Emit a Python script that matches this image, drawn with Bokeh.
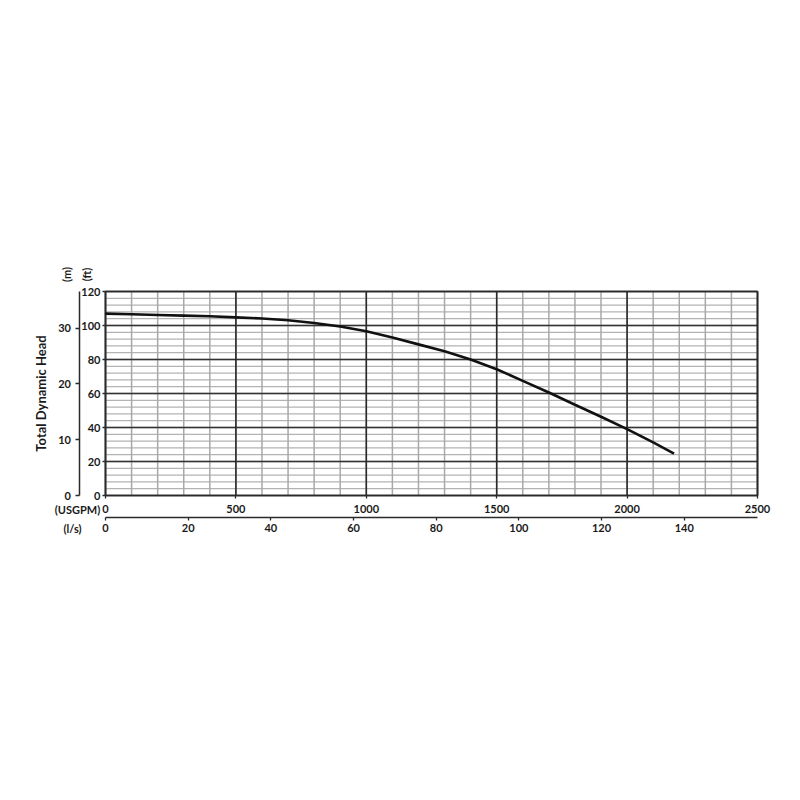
import math
from bokeh.plotting import figure
from bokeh.models import LinearAxis, Range1d, FixedTicker, Label
from bokeh.embed import file_html
from bokeh.resources import INLINE

# ---- data ----
flow_usgpm = [0, 100, 200, 300, 400, 500, 600, 700, 800, 900, 1000, 1100, 1200,
              1300, 1400, 1500, 1600, 1700, 1800, 1900, 2000, 2100, 2180]
head_ft = [107.0, 106.6, 106.2, 105.8, 105.4, 104.8, 104.1, 103.1, 101.5, 99.4,
           96.6, 93.0, 88.9, 84.8, 80.0, 74.3, 67.4, 60.6, 53.4, 46.3, 39.0,
           31.2, 24.6]

ft_ticks = [0, 20, 40, 60, 80, 100, 120]
ft_minor = list(range(0, 121, 4))
m_ticks = [0, 10, 20, 30]
usgpm_ticks = [0, 500, 1000, 1500, 2000, 2500]
usgpm_minor = list(range(0, 2501, 100))
ls_ticks = [0, 20, 40, 60, 80, 100, 120, 140]

FT_PER_M = 3.28084
USGPM_PER_LS = 15.850323

FONT = "Lato"
TXT = "#1a1a1a"
DARK = "#2a2a2a"

# ---- layout (page pixels) ----
W = H = 784
CH_L, CH_R, CH_T, CH_B = 105, 757, 291, 495   # chart box
X_MAX = usgpm_ticks[-1]
Y_MAX = ft_ticks[-1]
px_x = (CH_R - CH_L) / X_MAX
px_y = (CH_B - CH_T) / Y_MAX
x_start, x_end = -CH_L / px_x, X_MAX + (W - CH_R) / px_x
y_start, y_end = -(H - CH_B) / px_y, Y_MAX + CH_T / px_y

def dx(px):   # page x pixel -> USGPM data
    return (px - CH_L) / px_x

def dy(py):   # page y pixel -> ft data
    return (CH_B - py) / px_y

p = figure(width=W, height=H, output_backend="svg", toolbar_location=None,
           x_range=Range1d(x_start, x_end), y_range=Range1d(y_start, y_end),
           x_axis_type=None, y_axis_type=None,
           min_border_left=0, min_border_right=0,
           min_border_top=0, min_border_bottom=0)
p.outline_line_color = None
p.background_fill_color = "white"
p.border_fill_color = "white"

p.extra_y_ranges = {"m": Range1d(y_start / FT_PER_M, y_end / FT_PER_M)}
p.extra_x_ranges = {"ls": Range1d(x_start / USGPM_PER_LS, x_end / USGPM_PER_LS)}

# ---- grid ----
def hlines(vals, color, width):
    n = len(vals)
    p.segment(x0=[0] * n, x1=[X_MAX] * n, y0=vals, y1=vals,
              line_color=color, line_width=width)

def vlines(vals, color, width):
    n = len(vals)
    p.segment(x0=vals, x1=vals, y0=[0] * n, y1=[Y_MAX] * n,
              line_color=color, line_width=width)

hlines(ft_minor, "#b3b3b3", 1.3)
vlines(usgpm_minor, "#a8a8a8", 1.5)
hlines(ft_ticks, "#333333", 1.6)
vlines(usgpm_ticks, DARK, 1.6)
p.quad(left=0, right=X_MAX, bottom=0, top=Y_MAX, fill_color=None,
       line_color=DARK, line_width=1.6)

# ---- pump curve ----
p.line(flow_usgpm, head_ft, line_color="#111111", line_width=2.6)

# ---- axes ----
def style(ax, standoff, tick_out):
    ax.major_label_text_font = FONT
    ax.major_label_text_font_style = "bold"
    ax.major_label_text_font_size = "11px"
    ax.major_label_text_color = TXT
    ax.major_label_standoff = standoff
    ax.minor_tick_line_color = None
    ax.major_tick_line_color = DARK
    ax.major_tick_line_width = 1.3
    ax.major_tick_out = tick_out
    ax.major_tick_in = 0
    ax.axis_line_color = DARK
    ax.axis_line_width = 1.5

ft_axis = LinearAxis(ticker=FixedTicker(ticks=ft_ticks), fixed_location=0,
                     bounds=(0, Y_MAX))
style(ft_axis, 2, 3)
ft_axis.axis_line_color = None
p.add_layout(ft_axis, "left")

m_axis = LinearAxis(y_range_name="m", ticker=FixedTicker(ticks=m_ticks),
                    fixed_location=dx(78.5), bounds=(0, Y_MAX / FT_PER_M),
                    axis_label="Total Dynamic Head")
style(m_axis, 4, 4)
m_axis.axis_label_text_font = FONT
m_axis.axis_label_text_font_style = "bold"
m_axis.axis_label_text_font_size = "13px"
m_axis.axis_label_text_color = TXT
m_axis.axis_label_standoff = 7
p.add_layout(m_axis, "left")

q_axis = LinearAxis(ticker=FixedTicker(ticks=usgpm_ticks), fixed_location=0,
                    bounds=(0, X_MAX))
style(q_axis, 6, 3)
q_axis.axis_line_color = None
p.add_layout(q_axis, "below")

ls_axis = LinearAxis(x_range_name="ls", ticker=FixedTicker(ticks=ls_ticks),
                     fixed_location=dy(516.5), bounds=(0, X_MAX / USGPM_PER_LS))
style(ls_axis, 4, 3)
p.add_layout(ls_axis, "below")

# ---- unit labels ----
def lab(text, px, py, angle=0.0):
    p.add_layout(Label(x=dx(px), y=dy(py), text=text, angle=angle,
                       text_align="center", text_baseline="middle",
                       text_font=FONT, text_font_style="bold",
                       text_font_size="11px", text_color=TXT))

lab("(m)", 66, 274, angle=math.pi / 2)
lab("(ft)", 85.5, 274, angle=math.pi / 2)
lab("(USGPM)", 77, 509)
lab("(l/s)", 72, 528)

open("out.html", "w").write(file_html(p, INLINE))
